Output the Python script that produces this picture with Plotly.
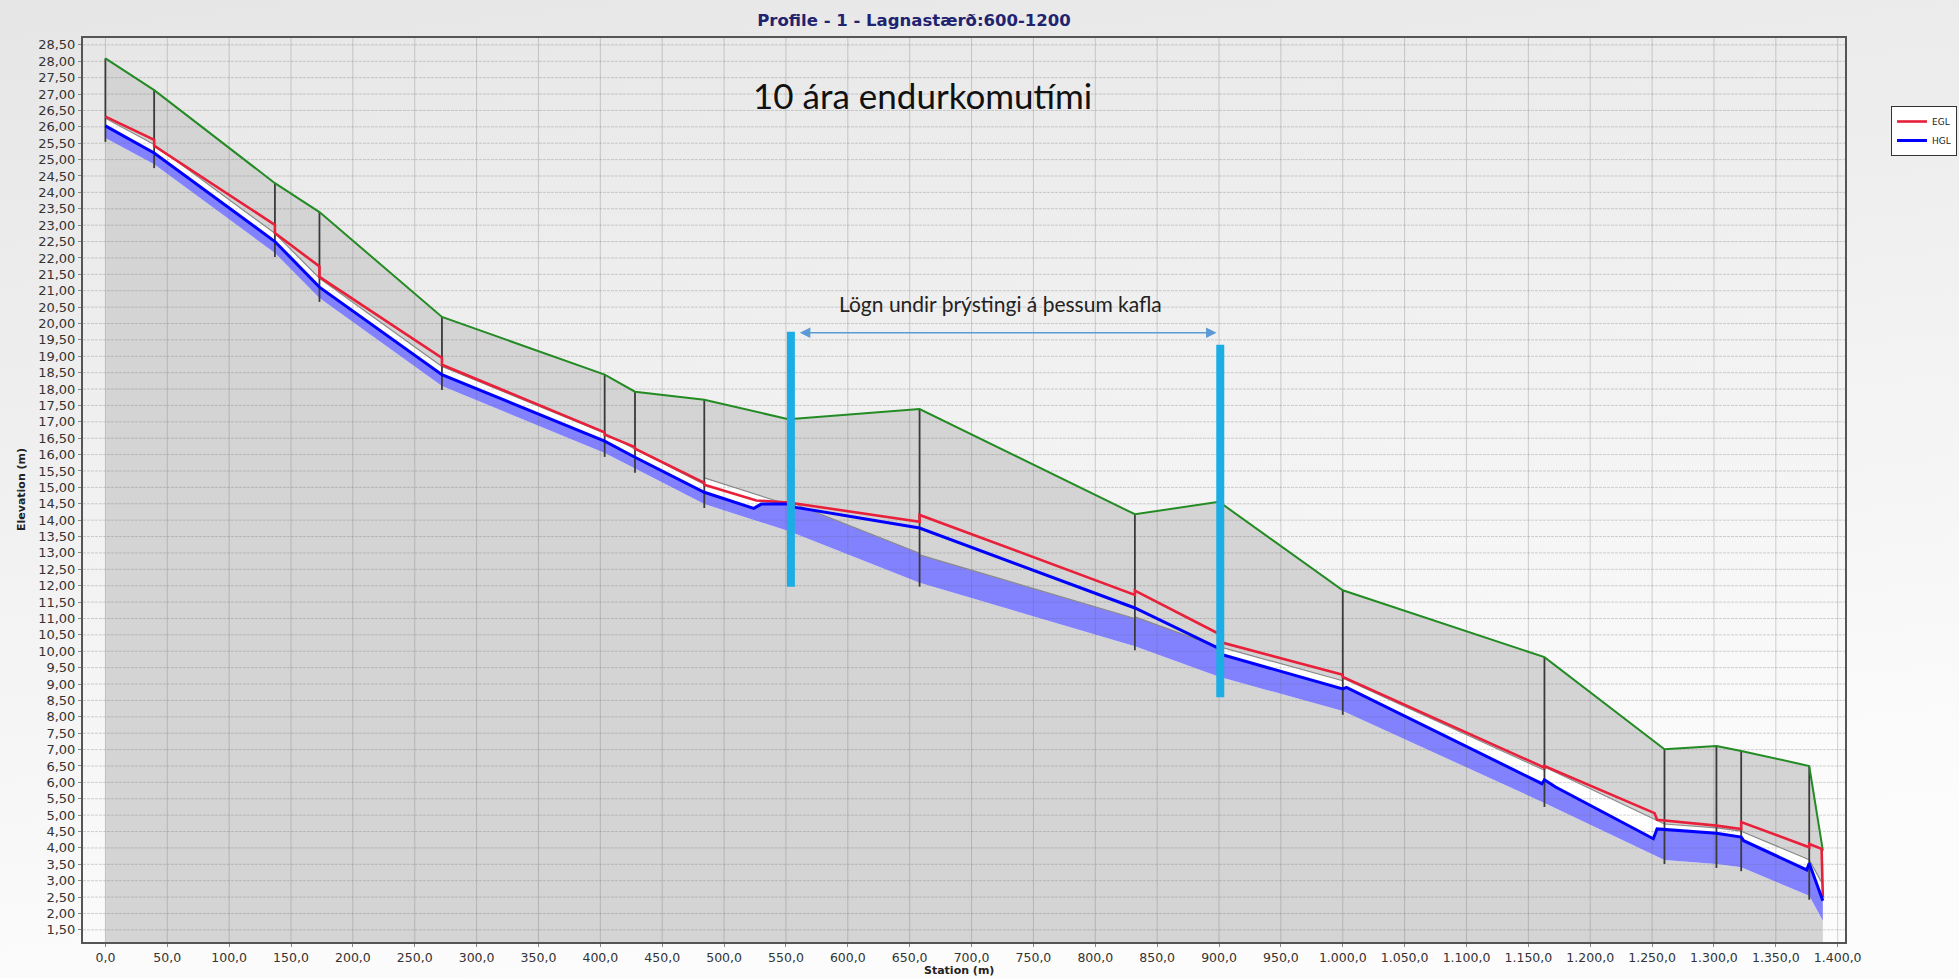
import base64
import numpy as np
import plotly.graph_objects as go

# ---------------- data ----------------
node_station = [0, 39.4, 137, 173, 272, 403.5, 428, 484, 552, 658, 832, 900, 1000, 1163, 1260, 1302, 1322, 1377, 1388]
ground_elev = [28.09, 27.12, 24.28, 23.40, 20.20, 18.44, 17.92, 17.67, 17.08, 17.39, 14.18, 14.56, 11.86, 9.82, 7.01, 7.11, 6.96, 6.50, 3.92]
invert_elev = [25.66, 24.86, 22.15, 20.78, 18.09, 16.05, 15.57, 14.49, 13.67, 12.09, 10.15, 9.22, 8.18, 5.37, 3.63, 3.51, 3.41, 2.54, 1.78]
pipe_diam = [0.6, 0.6, 0.6, 0.6, 0.6, 0.6, 0.6, 0.8, 0.9, 0.85, 0.9, 0.92, 1.0, 1.1, 1.1, 1.1, 1.1, 1.1]

egl_station = [0, 39.4, 39.4, 137, 137, 173, 173, 272, 272, 403.5, 403.5, 428, 428, 484, 484, 526, 552,
               658, 658, 832, 832, 899, 901, 1000, 1000, 1163, 1163, 1252, 1254, 1302, 1322, 1322,
               1377, 1377, 1387, 1388]
egl_elev = [26.31, 25.60, 25.42, 23.01, 22.76, 21.74, 21.42, 18.95, 18.74, 16.68, 16.61, 16.23, 16.18,
            15.14, 15.08, 14.60, 14.54, 13.95, 14.16, 11.72, 11.85, 10.55, 10.28, 9.28, 9.22, 6.45,
            6.50, 5.06, 4.86, 4.68, 4.58, 4.79, 4.02, 4.12, 3.97, 2.49]

hgl_station = [0, 39.4, 137, 173, 272, 403.5, 428, 484, 524, 530, 552, 558, 658, 832, 899, 902,
               1000, 1003, 1161, 1163, 1172, 1251, 1254, 1302, 1322, 1324, 1375, 1377, 1388]
hgl_elev = [26.03, 25.20, 22.50, 21.11, 18.44, 16.41, 15.92, 14.85, 14.36, 14.49, 14.49, 14.39, 13.76,
            11.32, 10.10, 9.90, 8.85, 8.90, 5.96, 6.08, 5.86, 4.28, 4.58, 4.45, 4.33, 4.22, 3.33, 3.53, 2.39]

marker_bars_station = [554, 901]
marker_bars_bottom = [11.97, 8.60]
marker_bars_top = [19.75, 19.35]

y_ticks = [round(1.5 + 0.5 * i, 2) for i in range(55)]
x_ticks = [50 * i for i in range(29)]

X_RANGE = [-18.1, 1405.9]
Y_RANGE = [1.13, 28.71]

# ---------------- geometry built from the data ----------------
n = len(node_station)
pipe_x, pipe_y, soil_x, soil_y, crown_x, crown_y = [], [], [], [], [], []
for i in range(n - 1):
    s0, s1 = node_station[i], node_station[i + 1]
    i0, i1 = invert_elev[i], invert_elev[i + 1]
    d = pipe_diam[i]
    pipe_x += [s0, s1, s1, s0, s0, None]
    pipe_y += [i0, i1, i1 + d, i0 + d, i0, None]
    soil_x += [s0, s1, s1, s0, s0, None]
    soil_y += [i0 + d, i1 + d, ground_elev[i + 1], ground_elev[i], i0 + d, None]
    crown_x += [s0, s1, None]
    crown_y += [i0 + d, i1 + d, None]

water_x = list(hgl_station) + node_station[::-1]
water_y = list(hgl_elev) + invert_elev[::-1]

mh_x, mh_y = [], []
for i in range(n - 1):
    mh_x += [node_station[i], node_station[i], None]
    mh_y += [ground_elev[i], invert_elev[i] - 0.12, None]

gh_x, gh_y = [], []
for v in y_ticks:
    gh_x += [X_RANGE[0], X_RANGE[1], None]
    gh_y += [v, v, None]
gv_x, gv_y = [], []
for t in x_ticks:
    gv_x += [t, t, None]
    gv_y += [Y_RANGE[0], Y_RANGE[1], None]

GRAY = "#d4d4d4"
fig = go.Figure()
fig.add_trace(go.Scatter(x=node_station, y=ground_elev, mode="lines", fill="tozeroy",
                         fillcolor=GRAY, line=dict(width=0), showlegend=False, hoverinfo="skip"))
fig.add_trace(go.Scatter(x=pipe_x, y=pipe_y, mode="lines", fill="toself", fillcolor="white",
                         line=dict(width=0), showlegend=False, hoverinfo="skip"))
fig.add_trace(go.Scatter(x=water_x, y=water_y, mode="lines", fill="toself", fillcolor="#8282ff",
                         line=dict(width=0), showlegend=False, hoverinfo="skip"))
fig.add_trace(go.Scatter(x=soil_x, y=soil_y, mode="lines", fill="toself", fillcolor=GRAY,
                         line=dict(width=0), showlegend=False, hoverinfo="skip"))
fig.add_trace(go.Scatter(x=gh_x, y=gh_y, mode="lines", line=dict(color="rgba(100,100,100,0.28)", width=1, dash="3px,1px"),
                         showlegend=False, hoverinfo="skip"))
fig.add_trace(go.Scatter(x=gv_x, y=gv_y, mode="lines", line=dict(color="rgba(100,100,100,0.28)", width=1),
                         showlegend=False, hoverinfo="skip"))
fig.add_trace(go.Scatter(x=crown_x, y=crown_y, mode="lines", line=dict(color="#8a8a8a", width=1.2),
                         showlegend=False, hoverinfo="skip"))
fig.add_trace(go.Scatter(x=mh_x, y=mh_y, mode="lines", line=dict(color="#3a3a3a", width=1.8),
                         showlegend=False, hoverinfo="skip"))
fig.add_trace(go.Scatter(x=node_station, y=ground_elev, mode="lines", line=dict(color="#238b23", width=2),
                         showlegend=False, hoverinfo="skip"))
fig.add_trace(go.Scatter(x=egl_station, y=egl_elev, mode="lines", name="EGL",
                         line=dict(color="#e8203a", width=2.6)))
fig.add_trace(go.Scatter(x=hgl_station, y=hgl_elev, mode="lines", name="HGL",
                         line=dict(color="#0000ff", width=3)))

for s, b, t in zip(marker_bars_station, marker_bars_bottom, marker_bars_top):
    fig.add_shape(type="line", xref="x", yref="y", x0=s, x1=s, y0=b, y1=t,
                  line=dict(color="#1cade4", width=8), layer="above")

fig.add_annotation(x=898, y=19.72, ax=560, ay=19.72, xref="x", yref="y", axref="x", ayref="y",
                   text="", showarrow=True, arrowhead=2, arrowside="end+start", arrowsize=1.4,
                   arrowwidth=1.5, arrowcolor="#5b9bd5")
fig.add_annotation(x=723, y=20.62, xref="x", yref="y", text="Lögn undir þrýstingi á þessum kafla",
                   showarrow=False, font=dict(family="Lato", size=21, color="#222222"))
fig.add_annotation(x=660, y=26.98, xref="x", yref="y", text="10 ára endurkomutími",
                   showarrow=False, font=dict(family="Lato", size=35, color="#111111"))

L, R, T, B = 83, 114, 38, 36
W, H = 1959, 978
pw, ph = W - L - R, H - T - B

fig.add_annotation(x=-(83 - 21) / pw, y=0.5, xref="paper", yref="paper", text="<b>Elevation (m)</b>",
                   textangle=-90, showarrow=False, xanchor="center", yanchor="middle",
                   font=dict(family="DejaVu Sans", size=11, color="#222"))
fig.add_annotation(x=(959 - L) / pw, y=-(970 - (H - B)) / ph, xref="paper", yref="paper",
                   text="<b>Station (m)</b>", showarrow=False, xanchor="center", yanchor="middle",
                   font=dict(family="DejaVu Sans", size=11, color="#222"))

svg = ('<svg xmlns="http://www.w3.org/2000/svg" width="100" height="100" preserveAspectRatio="none">'
       '<defs><linearGradient id="g" x1="0" y1="0" x2="0.25" y2="1">'
       '<stop offset="0" stop-color="#e6e6e6"/><stop offset="1" stop-color="#fcfcfc"/>'
       '</linearGradient></defs><rect width="100" height="100" fill="url(#g)"/></svg>')
src = "data:image/svg+xml;base64," + base64.b64encode(svg.encode()).decode()

fig.add_layout_image(source=src, xref="paper", yref="paper", x=-L / pw, y=1 + T / ph,
                     sizex=W / pw, sizey=H / ph, sizing="stretch", layer="below",
                     xanchor="left", yanchor="top")

axis_common = dict(showline=True, linecolor="#555555", linewidth=2, mirror=True, ticks="outside",
                   ticklen=3, tickcolor="#888888", showgrid=False, zeroline=False)
fig.update_layout(
    width=W, height=H, margin=dict(l=L, r=R, t=T, b=B, autoexpand=False),
    separators=",.",
    paper_bgcolor="#eeeeee", plot_bgcolor="rgba(0,0,0,0)",
    title=dict(text="<b>Profile - 1 - Lagnastærð:600-1200</b>", x=914 / W, xanchor="center",
               y=1 - 20 / H, yanchor="middle", font=dict(family="DejaVu Sans", size=16.5, color="#1f2370")),
    xaxis=dict(range=X_RANGE, tickvals=x_ticks, tickformat=",.1f",
               tickfont=dict(family="DejaVu Sans", size=12.5, color="#333333"), **axis_common),
    yaxis=dict(range=Y_RANGE, tickvals=y_ticks, tickformat=".2f",
               tickfont=dict(family="DejaVu Sans", size=13, color="#333333"), **axis_common),
    legend=dict(x=(1957 - L) / pw, y=(H - B - 106) / ph, xanchor="right", yanchor="top",
                bgcolor="white", bordercolor="#333333", borderwidth=1,
                font=dict(family="DejaVu Sans", size=9, color="#222"), itemwidth=30,
                tracegroupgap=0),
)

fig.write_html("out.html", config={"displayModeBar": False},
               post_script="document.body.style.margin='0';document.body.style.overflow='hidden';")
